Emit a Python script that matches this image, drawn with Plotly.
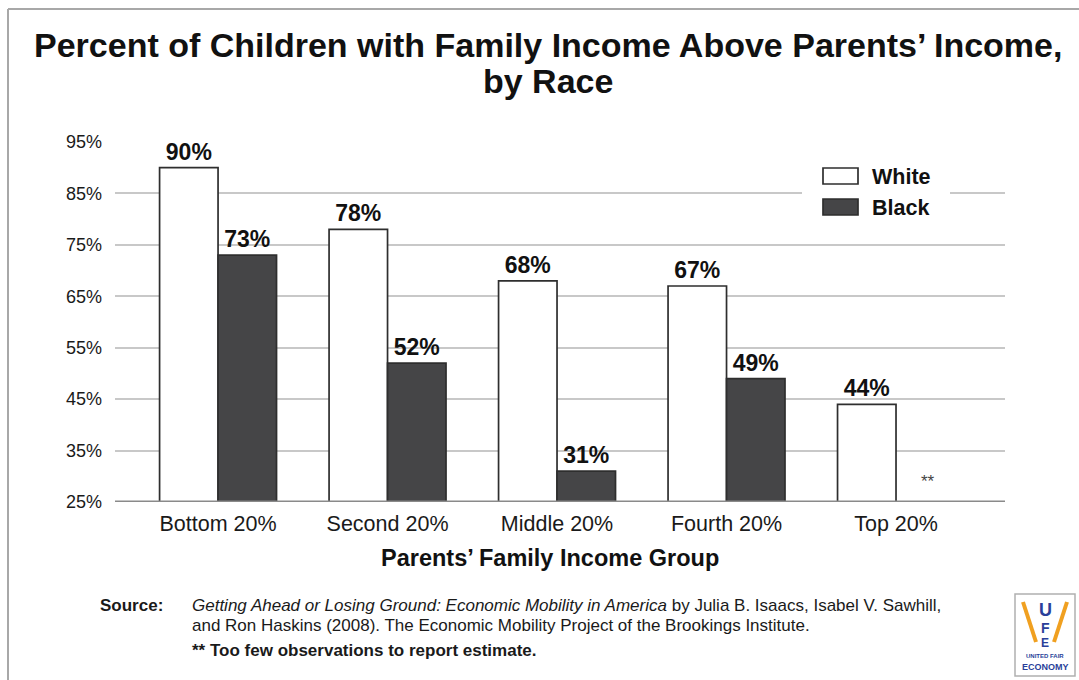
import plotly.graph_objects as go

# Data
groups = ["Bottom 20%", "Second 20%", "Middle 20%", "Fourth 20%", "Top 20%"]
white_pct = [90, 78, 68, 67, 44]
black_pct = [73, 52, 31, 49, None]   # top group: too few observations
y_ticks = [25, 35, 45, 55, 65, 75, 85, 95]

FONT = "Liberation Sans, Arial, sans-serif"
BLACK_FILL = "#454547"
EDGE = "#2e2e2e"

W, H = 1079, 680
L, R, T, B = 115, 1005, 142, 502   # plot area in pixels


def px(x):
    return (x - L) / (R - L)


def py(y):
    return (B - y) / (B - T)


label_font = dict(family=FONT, size=23, color="#111111", weight="bold")

fig = go.Figure()
fig.add_trace(go.Bar(
    name="White", x=groups, y=white_pct,
    marker=dict(color="white", line=dict(color=EDGE, width=1.7)),
    text=[f"{v}%" for v in white_pct], textposition="outside",
    textfont=label_font, cliponaxis=False, showlegend=False,
))
fig.add_trace(go.Bar(
    name="Black", x=groups, y=black_pct,
    marker=dict(color=BLACK_FILL, line=dict(color=EDGE, width=1.7)),
    text=[f"{v}%" if v is not None else "" for v in black_pct], textposition="outside",
    textfont=label_font, cliponaxis=False, showlegend=False,
))

shapes = []
annotations = []

# outer frame (top and left edges)
shapes.append(dict(type="line", xref="paper", yref="paper", x0=px(8), x1=px(W), y0=py(9), y1=py(9),
                   line=dict(color="#a8a8a8", width=2)))
shapes.append(dict(type="line", xref="paper", yref="paper", x0=px(8), x1=px(8), y0=py(9), y1=py(H),
                   line=dict(color="#a8a8a8", width=2)))

# title, two lines
for line, yc in [("Percent of Children with Family Income Above Parents’ Income,", 45), ("by Race", 81)]:
    annotations.append(dict(
        text=f"<b>{line}</b>", xref="paper", yref="paper", x=px(548), y=py(yc),
        xanchor="center", yanchor="middle", showarrow=False,
        font=dict(family=FONT, size=34, color="#111111"),
    ))

# x-axis title
annotations.append(dict(
    text="<b>Parents’ Family Income Group</b>", xref="paper", yref="paper",
    x=px(550), y=py(558), xanchor="center", yanchor="middle", showarrow=False,
    font=dict(family=FONT, size=23.5, color="#111111"),
))

# missing estimate marker
annotations.append(dict(
    text="**", x=groups[4], y=25, xshift=32, yshift=9, xanchor="center", yanchor="bottom",
    showarrow=False, font=dict(family=FONT, size=17, color="#444444"),
))

# legend box (white background interrupts gridline)
shapes.append(dict(type="rect", xref="paper", yref="paper", x0=px(802), x1=px(950), y0=py(225), y1=py(158),
                   fillcolor="white", line=dict(width=0), layer="above"))
legend_items = [("White", "white", 176), ("Black", BLACK_FILL, 207)]
for label, fill, yc in legend_items:
    shapes.append(dict(type="rect", xref="paper", yref="paper", x0=px(823), x1=px(858),
                       y0=py(yc + 8), y1=py(yc - 8), fillcolor=fill,
                       line=dict(color=EDGE, width=1.7), layer="above"))
    annotations.append(dict(text=f"<b>{label}</b>", xref="paper", yref="paper", x=px(870), y=py(yc + 1),
                            xanchor="left", yanchor="middle", showarrow=False,
                            font=dict(family=FONT, size=21.5, color="#111111")))

# source notes
src_font = dict(family=FONT, size=17, color="#1a1a1a")
annotations.append(dict(text="<b>Source:</b>", xref="paper", yref="paper", x=px(98), y=py(605),
                        xanchor="left", yanchor="middle", showarrow=False, font=src_font))
annotations.append(dict(
    text="<i>Getting Ahead or Losing Ground: Economic Mobility in America</i> by Julia B. Isaacs, Isabel V. Sawhill,",
    xref="paper", yref="paper", x=px(190), y=py(605), xanchor="left", yanchor="middle",
    showarrow=False, font=src_font))
annotations.append(dict(
    text="and Ron Haskins (2008). The Economic Mobility Project of the Brookings Institute.",
    xref="paper", yref="paper", x=px(190), y=py(625), xanchor="left", yanchor="middle",
    showarrow=False, font=src_font))
annotations.append(dict(
    text="<b>** Too few observations to report estimate.</b>",
    xref="paper", yref="paper", x=px(190), y=py(650), xanchor="left", yanchor="middle",
    showarrow=False, font=src_font))

# UFE emblem
shapes.append(dict(type="rect", xref="paper", yref="paper", x0=px(1015), x1=px(1075), y0=py(676), y1=py(594),
                   fillcolor="white", line=dict(color="#b0b0b0", width=1.5)))
shapes.append(dict(type="line", xref="paper", yref="paper", x0=px(1023), x1=px(1036), y0=py(602), y1=py(642),
                   line=dict(color="#f0a020", width=4)))
shapes.append(dict(type="line", xref="paper", yref="paper", x0=px(1067), x1=px(1054), y0=py(602), y1=py(642),
                   line=dict(color="#f0a020", width=4)))
for ch, yc, sz in [("U", 610, 18), ("F", 628, 14), ("E", 643, 12)]:
    annotations.append(dict(text=f"<b>{ch}</b>", xref="paper", yref="paper", x=px(1045), y=py(yc),
                            xanchor="center", yanchor="middle", showarrow=False,
                            font=dict(family=FONT, size=sz, color="#2a3f9a")))
annotations.append(dict(text="<b>UNITED FAIR</b>", xref="paper", yref="paper", x=px(1045), y=py(656),
                        xanchor="center", yanchor="middle", showarrow=False,
                        font=dict(family=FONT, size=6, color="#2a3f9a")))
annotations.append(dict(text="<b>ECONOMY</b>", xref="paper", yref="paper", x=px(1045), y=py(667),
                        xanchor="center", yanchor="middle", showarrow=False,
                        font=dict(family=FONT, size=9, color="#2a3f9a")))

fig.update_layout(
    width=W, height=H,
    margin=dict(l=L, r=W - R, t=T, b=H - B, pad=0),
    paper_bgcolor="white", plot_bgcolor="white",
    barmode="group", bargap=0.31, bargroupgap=0,
    shapes=shapes, annotations=annotations,
    showlegend=False,
)
fig.update_xaxes(
    range=[-0.608, 4.643], showgrid=False, showline=False, zeroline=False,
    tickfont=dict(family=FONT, size=21.5, color="#1a1a1a"), ticks="", ticklabelstandoff=6,
)
fig.update_yaxes(
    range=[25, 95], tickvals=y_ticks, ticktext=[f"{v}%" for v in y_ticks],
    showgrid=True, gridcolor="#c8c8c8", gridwidth=1.5, zeroline=False, showline=False,
    tickfont=dict(family=FONT, size=18, color="#1a1a1a"), ticks="", ticklabelstandoff=12,
)
# baseline at 25%
fig.add_hline(y=25, line=dict(color="#8a8a8a", width=3))

fig.write_html("out.html")
